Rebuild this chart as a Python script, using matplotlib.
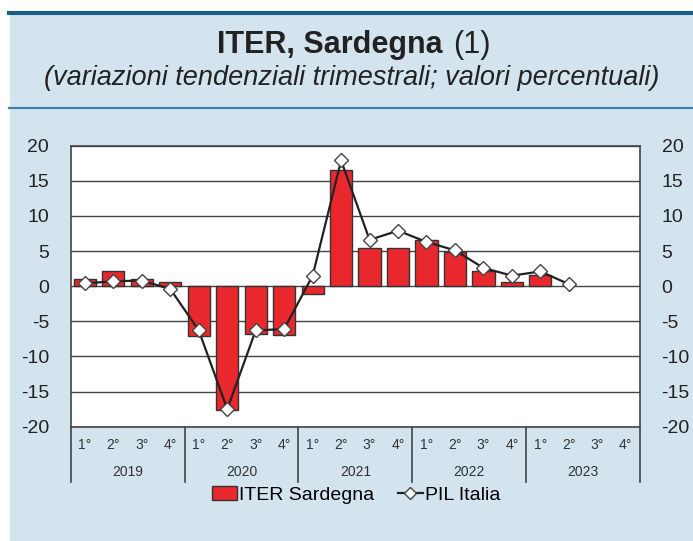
import numpy as np
import matplotlib
matplotlib.use('Agg')
import matplotlib.pyplot as plt
from matplotlib.patches import Rectangle, Patch
from matplotlib.lines import Line2D
import matplotlib.transforms as mtransforms

plt.rcParams['font.family'] = ['Liberation Sans', 'DejaVu Sans']
plt.rcParams['axes.unicode_minus'] = False

# data
years = ['2019', '2020', '2021', '2022', '2023']
quarters = ['1°', '2°', '3°', '4°']
iter_sardegna = [1.0, 2.1, 1.0, 0.6, -7.1, -17.6, -6.8, -6.9, -1.1, 16.5,
                 5.5, 5.5, 6.6, 4.8, 2.1, 0.6, 1.6, np.nan, np.nan, np.nan]
pil_italia = [0.4, 0.7, 0.8, -0.4, -6.3, -17.5, -6.3, -6.1, 1.5, 17.9,
              6.6, 7.9, 6.3, 5.1, 2.6, 1.5, 2.1, 0.3, np.nan, np.nan]

bg = '#d3e4ee'
red = '#e8282d'
dark = '#333333'

fig = plt.figure(figsize=(6.93, 5.41), dpi=100)
fig.patch.set_facecolor('white')
fig.patches.append(Rectangle((0.014, 0), 0.986, 0.976, transform=fig.transFigure,
                             facecolor=bg, edgecolor='none', zorder=-10))
fig.add_artist(Line2D([0.013, 1], [0.976, 0.976], transform=fig.transFigure,
                      color='#1b5e84', lw=3))
fig.add_artist(Line2D([0.013, 1], [0.800, 0.800], transform=fig.transFigure,
                      color='#3d84a8', lw=1.6))

# title: bold part and regular "(1)"
fig.text(217 / 693, 0.917, 'ITER, Sardegna', ha='left', va='center',
         fontsize=22, fontweight='bold', color='#222222')
fig.text(453 / 693, 0.917, '(1)', ha='left', va='center',
         fontsize=22, color='#222222')
fig.text(0.508, 0.856, '(variazioni tendenziali trimestrali; valori percentuali)',
         ha='center', va='center', fontsize=19.5, style='italic', color='#222222')

ax = fig.add_axes([0.102, 0.2113, 0.8215, 0.5194])
ax.set_facecolor('white')
x = np.arange(len(iter_sardegna))
ax.bar(x, iter_sardegna, width=0.78, color=red, edgecolor=dark, linewidth=1, zorder=3)
ax.plot(x, pil_italia, color='#222222', lw=1.6, marker='D', markersize=7,
        markerfacecolor='white', markeredgecolor='#444444', markeredgewidth=1, zorder=4)

ax.set_ylim(-20, 20)
ax.set_xlim(-0.5, 19.5)
ax.set_yticks(range(-20, 21, 5))
ax.grid(axis='y', color='#444444', lw=1, zorder=1)
ax.set_axisbelow(True)
ax.set_xticks([])
ax.tick_params(axis='y', left=False, right=False, labelleft=True, labelright=True,
               labelsize=14, pad=12, colors='#222222')
for s in ax.spines.values():
    s.set_color('#444444')
    s.set_linewidth(1.2)

# category axis below the plot
trans = mtransforms.blended_transform_factory(ax.transData, ax.transAxes)
for b in [-0.5, 3.5, 7.5, 11.5, 15.5, 19.5]:
    ax.add_line(Line2D([b, b], [0, -0.196], transform=trans, color='#444444',
                       lw=1.2, clip_on=False))
for i in x:
    ax.text(i, -0.065, quarters[i % 4], transform=trans, ha='center', va='center',
            fontsize=10, color='#333333')
for j, yr in enumerate(years):
    ax.text(j * 4 + 1.5, -0.161, yr, transform=trans, ha='center', va='center',
            fontsize=10, color='#333333')

handles = [Patch(facecolor=red, edgecolor=dark, linewidth=1),
           Line2D([0], [0], color='#222222', lw=1.6, marker='D', markersize=6,
                  markerfacecolor='white', markeredgecolor='#444444')]
fig.legend(handles, ['ITER Sardegna', 'PIL Italia'], loc='center',
           bbox_to_anchor=(0.514, 0.085), ncol=2, frameon=False, fontsize=14,
           handlelength=1.3, handletextpad=0.1, columnspacing=1.2)

fig.savefig('out.png', dpi=100, facecolor=fig.get_facecolor())
